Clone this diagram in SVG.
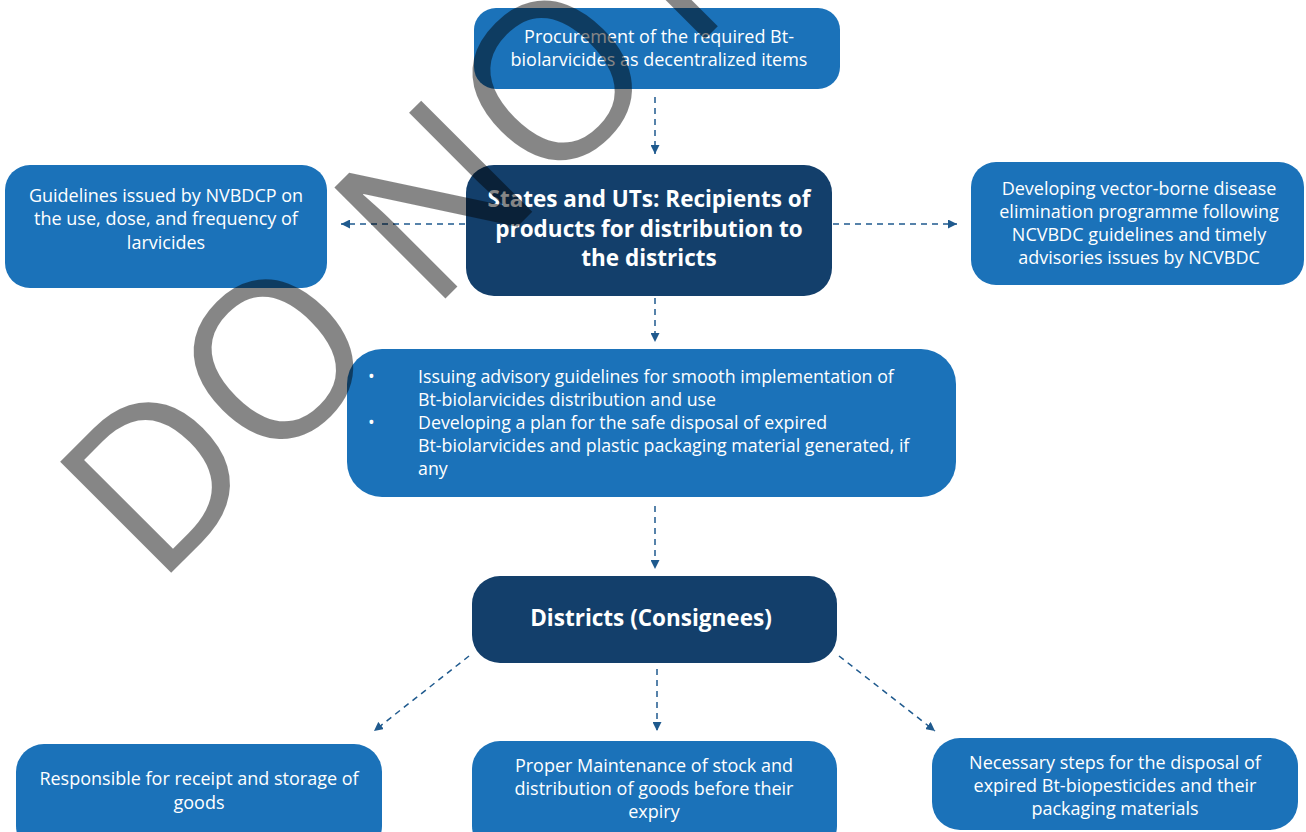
<svg xmlns="http://www.w3.org/2000/svg" width="1306" height="832" viewBox="0 0 1306 832">
<defs>
<style>
.box{fill:#1b72b9;}
.dark{fill:#133f6b;}
.t{font-family:"Open Sans","Liberation Sans",sans-serif;font-size:18px;fill:#ffffff;text-anchor:middle;}
.tl{font-family:"Open Sans","Liberation Sans",sans-serif;font-size:17.8px;fill:#ffffff;}
.b{font-family:"Open Sans","Liberation Sans",sans-serif;font-size:22.5px;font-weight:bold;fill:#ffffff;text-anchor:middle;}
.c{fill:none;stroke:#1f5a8e;stroke-width:1.5;stroke-dasharray:6 5;}
.wm{font-family:"Open Sans","Liberation Sans",sans-serif;font-size:220px;fill:#000000;opacity:0.47;}
</style>
<marker id="ah" viewBox="0 0 10 10" refX="10" refY="5" markerWidth="9" markerHeight="9" markerUnits="userSpaceOnUse" orient="auto">
<path d="M0,0 L10,5 L0,10 z" fill="#1f5a8e"/>
</marker>
</defs>
<rect width="1306" height="832" fill="#ffffff"/>

<g id="connectors">
<path class="c" d="M655,97 V154" marker-end="url(#ah)"/>
<path class="c" d="M465,224 H341" marker-end="url(#ah)"/>
<path class="c" d="M833,224 H957" marker-end="url(#ah)"/>
<path class="c" d="M655,298 V342" marker-end="url(#ah)"/>
<path class="c" d="M655,506 V569" marker-end="url(#ah)"/>
<path class="c" d="M469,656 L374,731" marker-end="url(#ah)"/>
<path class="c" d="M657,669 V731" marker-end="url(#ah)"/>
<path class="c" d="M839,656 L935,731" marker-end="url(#ah)"/>
</g>

<g id="procurement">
<rect class="box" x="474" y="8" width="366" height="81" rx="22"/>
<text class="t" x="659" y="43">Procurement of the required Bt-</text>
<text class="t" x="659" y="66">biolarvicides as decentralized items</text>
</g>

<g id="states">
<rect class="dark" x="466" y="165" width="366" height="131" rx="28"/>
<text class="b" x="649" y="207">States and UTs: Recipients of</text>
<text class="b" x="649" y="237">products for distribution to</text>
<text class="b" x="649" y="266">the districts</text>
</g>

<g id="guidelines">
<rect class="box" x="5" y="165" width="322" height="123" rx="25"/>
<text class="t" x="166" y="202">Guidelines issued by NVBDCP on</text>
<text class="t" x="166" y="225">the use, dose, and frequency of</text>
<text class="t" x="166" y="249">larvicides</text>
</g>

<g id="developing">
<rect class="box" x="971" y="162" width="333" height="123" rx="25"/>
<text class="t" x="1139" y="195">Developing vector-borne disease</text>
<text class="t" x="1139" y="218">elimination programme following</text>
<text class="t" x="1139" y="241">NCVBDC guidelines and timely</text>
<text class="t" x="1139" y="264">advisories issues by NCVBDC</text>
</g>

<g id="advisory">
<rect class="box" x="347" y="349" width="609" height="148" rx="35"/>
<text class="tl" x="368" y="383">•</text>
<text class="tl" x="418" y="383">Issuing advisory guidelines for smooth implementation of</text>
<text class="tl" x="418" y="406">Bt-biolarvicides distribution and use</text>
<text class="tl" x="368" y="429">•</text>
<text class="tl" x="418" y="429">Developing a plan for the safe disposal of expired</text>
<text class="tl" x="418" y="452">Bt-biolarvicides and plastic packaging material generated, if</text>
<text class="tl" x="418" y="475">any</text>
</g>

<g id="districts">
<rect class="dark" x="472" y="576" width="365" height="87" rx="28"/>
<text class="b" x="651" y="626">Districts (Consignees)</text>
</g>

<g id="receipt">
<rect class="box" x="16" y="744" width="366" height="110" rx="28"/>
<text class="t" x="199" y="785">Responsible for receipt and storage of</text>
<text class="t" x="199" y="809">goods</text>
</g>

<g id="maintenance">
<rect class="box" x="472" y="741" width="365" height="113" rx="28"/>
<text class="t" x="654" y="772">Proper Maintenance of stock and</text>
<text class="t" x="654" y="795">distribution of goods before their</text>
<text class="t" x="654" y="818">expiry</text>
</g>

<g id="disposal">
<rect class="box" x="932" y="738" width="366" height="92" rx="28"/>
<text class="t" x="1115" y="769">Necessary steps for the disposal of</text>
<text class="t" x="1115" y="792">expired Bt-biopesticides and their</text>
<text class="t" x="1115" y="815">packaging materials</text>
</g>

<g id="watermark">
<text class="wm" transform="translate(156,588) rotate(-45)">DO NOT</text>
</g>
</svg>
